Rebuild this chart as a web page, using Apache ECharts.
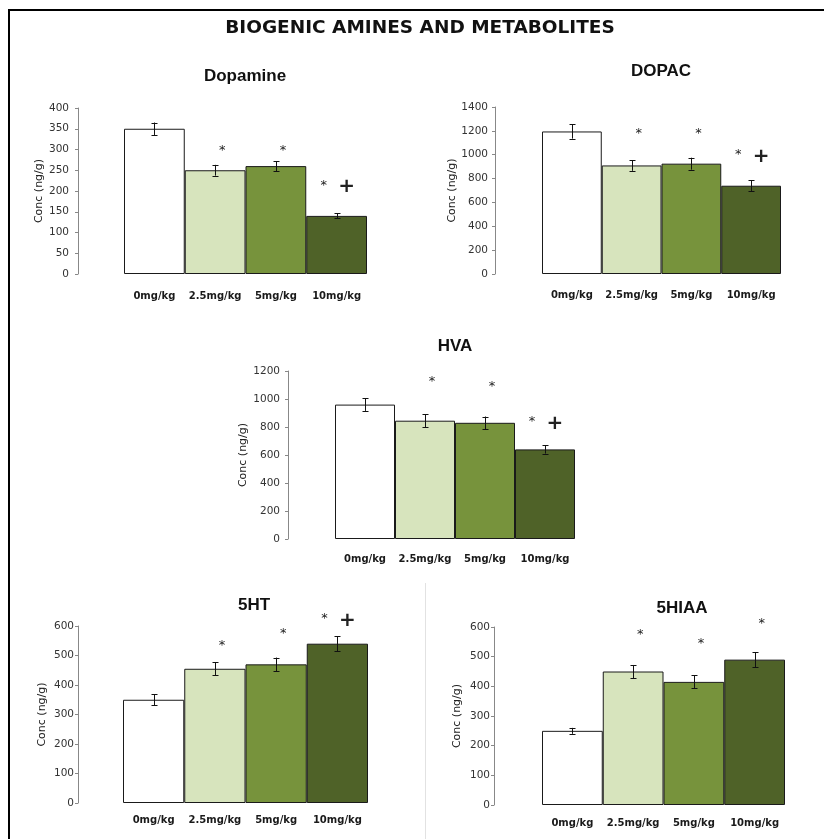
<!DOCTYPE html>
<html>
<head>
<meta charset="utf-8">
<title>Biogenic amines and metabolites</title>
<script src="https://cdn.jsdelivr.net/npm/echarts@6/dist/echarts.min.js"></script>
<style>
  html, body { margin: 0; padding: 0; background: #fff; }
  #chart { width: 824px; height: 839px; }
</style>
</head>
<body>
<div id="chart"></div>
<script>
// Dose groups (x categories)
const categories = ['0mg/kg', '2.5mg/kg', '5mg/kg', '10mg/kg'];

// Dopamine (ng/g): mean and error
const dopamineMean = [350, 250, 260, 140];
const dopamineErr = [15, 13, 12, 6];
const dopamineStar = [null, 304, 304, 219];
const dopaminePlus = [null, null, null, 210];

// DOPAC (ng/g)
const dopacMean = [1195, 910, 925, 740];
const dopacErr = [60, 45, 50, 45];
const dopacStar = [null, 1205, 1205, 1024];
const dopacPlus = [null, null, null, 982];

// HVA (ng/g)
const hvaMean = [960, 845, 830, 640];
const hvaErr = [45, 45, 45, 30];
const hvaStar = [null, 1148, 1107, 857];
const hvaPlus = [null, null, null, 823];

// 5HT (ng/g)
const htMean = [350, 455, 470, 540];
const htErr = [18, 22, 23, 26];
const htStar = [null, 544, 583, 636];
const htPlus = [null, null, null, 619];

// 5HIAA (ng/g)
const hiaaMean = [250, 450, 415, 490];
const hiaaErr = [10, 22, 22, 25];
const hiaaStar = [null, 583, 555, 622];
const hiaaPlus = [null, null, null, null];

// Axis ranges and tick steps
const yMax = [400, 1400, 1200, 600, 600];
const yStep = [50, 200, 200, 100, 100];

const barColors = ['#ffffff', '#d7e4bd', '#77933c', '#4f6228'];

const panels = [
  { name: 'Dopamine', mean: dopamineMean, err: dopamineErr, star: dopamineStar, plus: dopaminePlus,
    grid: { left: 124, top: 108, width: 243, height: 166 }, offset: 46,
    title: [245, 76], nameGap: 33, labelMargin: 9, xMargin: 17 },
  { name: 'DOPAC', mean: dopacMean, err: dopacErr, star: dopacStar, plus: dopacPlus,
    grid: { left: 542, top: 107, width: 239, height: 167 }, offset: 47,
    title: [661, 71], nameGap: 37, labelMargin: 7, xMargin: 16 },
  { name: 'HVA', mean: hvaMean, err: hvaErr, star: hvaStar, plus: hvaPlus,
    grid: { left: 335, top: 371, width: 240, height: 168 }, offset: 47,
    title: [455, 346], nameGap: 39, labelMargin: 8, xMargin: 15 },
  { name: '5HT', mean: htMean, err: htErr, star: htStar, plus: htPlus,
    grid: { left: 123, top: 626, width: 245, height: 177 }, offset: 45,
    title: [254, 605], nameGap: 30, labelMargin: 4, xMargin: 12 },
  { name: '5HIAA', mean: hiaaMean, err: hiaaErr, star: hiaaStar, plus: hiaaPlus,
    grid: { left: 542, top: 627, width: 243, height: 178 }, offset: 48,
    title: [682, 608], nameGap: 31, labelMargin: 4, xMargin: 13 }
];

function errorBarItem(params, api) {
  const idx = api.value(0);
  const m = api.value(1);
  const e = api.value(2);
  const hi = api.coord([idx, m + e]);
  const lo = api.coord([idx, m - e]);
  const cx = Math.round(hi[0]) + 0.5;
  const cap = 3;
  const st = { stroke: '#111', lineWidth: 1 };
  return {
    type: 'group',
    children: [
      { type: 'line', shape: { x1: cx, y1: hi[1], x2: cx, y2: lo[1] }, style: st },
      { type: 'line', shape: { x1: cx - cap, y1: Math.round(hi[1]) + 0.5, x2: cx + cap, y2: Math.round(hi[1]) + 0.5 }, style: st },
      { type: 'line', shape: { x1: cx - cap, y1: Math.round(lo[1]) + 0.5, x2: cx + cap, y2: Math.round(lo[1]) + 0.5 }, style: st }
    ]
  };
}

function markerRenderer(glyph, font, dy) {
  return function (params, api) {
    const p = api.coord([api.value(0), api.value(1)]);
    return {
      type: 'text',
      x: p[0] + api.value(2),
      y: p[1] + dy,
      style: { text: glyph, font: font, fill: '#222', textAlign: 'center', textVerticalAlign: 'middle' }
    };
  };
}

const grid = [], xAxis = [], yAxis = [], series = [];
const graphic = [
  // frame
  { type: 'line', shape: { x1: 8, y1: 10, x2: 824, y2: 10 }, style: { stroke: '#000', lineWidth: 2 } },
  { type: 'line', shape: { x1: 9, y1: 10, x2: 9, y2: 839 }, style: { stroke: '#000', lineWidth: 2 } },
  { type: 'line', shape: { x1: 425.5, y1: 583, x2: 425.5, y2: 839 }, style: { stroke: '#e2e2e2', lineWidth: 1 } },
  { type: 'text', x: 420, y: 28,
    style: { text: 'BIOGENIC AMINES AND METABOLITES', font: 'bold 18.5px "DejaVu Sans"', fill: '#111',
             textAlign: 'center', textVerticalAlign: 'middle' } }
];

panels.forEach((pnl, i) => {
  grid.push(Object.assign({ containLabel: false }, pnl.grid));
  xAxis.push({
    type: 'category', gridIndex: i, data: categories,
    axisLine: { show: false }, axisTick: { show: false },
    axisLabel: { color: '#1a1a1a', fontFamily: 'DejaVu Sans', fontWeight: 'bold', fontSize: 10, margin: pnl.xMargin, interval: 0 }
  });
  yAxis.push({
    type: 'value', gridIndex: i, min: 0, max: yMax[i], interval: yStep[i], offset: pnl.offset,
    name: 'Conc (ng/g)', nameLocation: 'middle', nameRotate: 90, nameGap: pnl.nameGap,
    nameTextStyle: { color: '#222', fontFamily: 'DejaVu Sans', fontSize: 11 },
    splitLine: { show: false },
    axisLine: { show: true, lineStyle: { color: '#888', width: 1 } },
    axisTick: { show: true, length: 3, lineStyle: { color: '#888' } },
    axisLabel: { color: '#333', fontFamily: 'DejaVu Sans', fontSize: 10.5, margin: pnl.labelMargin,
                 formatter: v => String(v) }
  });
  graphic.push({ type: 'text', x: pnl.title[0], y: pnl.title[1],
    style: { text: pnl.name, font: 'bold 17px "Liberation Sans"', fill: '#111', textAlign: 'center', textVerticalAlign: 'middle' } });

  series.push({
    type: 'bar', xAxisIndex: i, yAxisIndex: i, barWidth: '100%', barCategoryGap: '0%',
    data: pnl.mean.map((v, k) => ({ value: v, itemStyle: { color: barColors[k] } })),
    itemStyle: { borderColor: '#1a1a1a', borderWidth: 1 },
    silent: true
  });
  series.push({
    type: 'custom', xAxisIndex: i, yAxisIndex: i, renderItem: errorBarItem, silent: true, z: 5,
    data: pnl.mean.map((v, k) => [k, v, pnl.err[k]])
  });
  const starData = [], plusData = [];
  pnl.star.forEach((v, k) => {
    if (v == null) return;
    starData.push([k, v, pnl.plus[k] != null ? -13 : 7]);
  });
  pnl.plus.forEach((v, k) => {
    if (v == null) return;
    plusData.push([k, v, 10]);
  });
  series.push({
    type: 'custom', xAxisIndex: i, yAxisIndex: i, silent: true, z: 6,
    renderItem: markerRenderer('*', '13px "DejaVu Sans"', 3), data: starData
  });
  if (plusData.length) {
    series.push({
      type: 'custom', xAxisIndex: i, yAxisIndex: i, silent: true, z: 6,
      renderItem: markerRenderer('+', 'bold 20px "DejaVu Sans"', 0), data: plusData
    });
  }
});

const chart = echarts.init(document.getElementById('chart'), null, { renderer: 'canvas' });
chart.setOption({ animation: false, backgroundColor: '#fff', graphic, grid, xAxis, yAxis, series });
</script>
</body>
</html>
